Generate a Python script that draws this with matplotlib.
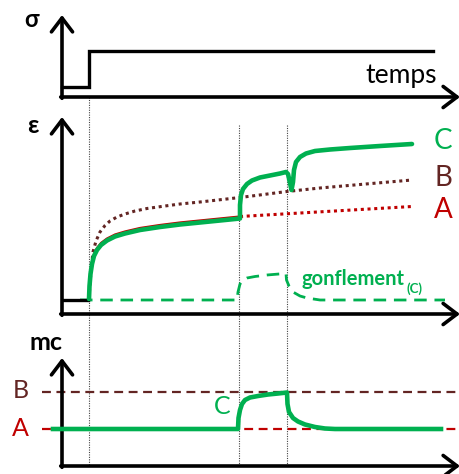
import matplotlib.pyplot as plt

plt.rcParams['font.family'] = ['Lato', 'DejaVu Sans']

# Couleurs
VERT = '#00B050'
ROUGE = '#C00000'
BRUN = '#632523'

# Panneau sigma : chargement en echelon
sigma_x = [62, 89, 89, 433]
sigma_y = [87, 87, 51, 51]

# Panneau epsilon : courbe A (trait plein puis pointille)
A_x = [89, 89.5, 90.5, 92, 94, 97, 101, 107, 115, 125, 140, 160, 180, 200, 220, 240]
A_y = [299, 285, 272, 262, 254, 248, 243, 238.5, 234.5, 231.5, 228, 225, 222.5, 220.5, 218.5, 216.5]
A_suite_x = [240, 412]
A_suite_y = [216.5, 206.5]

# courbe B (pointille)
B_x = [89, 90, 91.5, 93, 96, 100, 105, 110, 117, 125, 135, 147, 165, 180, 200, 240, 287, 320, 360, 412]
B_y = [299, 283, 266, 252, 241, 232, 225.5, 221, 217, 214, 211, 208.5, 206, 204, 202, 197.5, 191.5, 188, 184.5, 180]

# courbe C (trait epais)
C_x = [89, 89.5, 90.5, 92, 94, 97, 101, 107, 115, 125, 140, 160, 180, 200, 220, 240,
       240, 241, 243, 247, 252, 260, 270, 280, 286,
       288, 290, 291.5, 293, 294, 296, 300, 306, 315, 330, 350, 380, 412]
C_y = [299, 286, 274, 264, 256, 250, 245, 240.5, 236.5, 233.5, 230, 227, 224.5, 222.5, 220.5, 218.5,
       205, 195, 189, 184, 180.5, 177.5, 175.5, 173.5, 172,
       174, 183, 190, 182, 170, 162, 157, 153.5, 151, 149.5, 148, 146, 144]

# gonflement (C) en tirets
gonf_x = [80, 237, 238, 240, 243, 247, 255, 267, 285, 286, 286.5, 289, 293, 300, 307, 320, 445]
gonf_y = [300, 300, 292, 284, 280, 278, 276.5, 275, 273.5, 273.5, 280, 286, 292, 296, 298, 300, 300]

# Panneau mc
mcA = 429
mcB = 392
mc_x = [53, 238, 238.5, 240, 242, 245, 250, 258, 268, 278, 287,
        287.5, 289, 293, 298, 305, 315, 325, 335, 441]
mc_y = [429, 429, 418, 410, 404, 400, 397.5, 396, 394.5, 393.5, 392.5,
        404, 412, 418, 421.5, 424.5, 427, 428.5, 429, 429]

# Instants reperes (lignes verticales pointillees)
t_reperes = [89, 239, 287]

fig = plt.figure(figsize=(4.6, 4.74), dpi=100)
ax = fig.add_axes([0, 0, 1, 1])
ax.set_xlim(0, 460)
ax.set_ylim(474, 0)
ax.axis('off')

# lignes verticales pointillees
ax.plot([t_reperes[0]] * 2, [97, 466], color='#444444', lw=0.8, ls=(0, (1, 1.2)), zorder=1)
for t in t_reperes[1:]:
    ax.plot([t, t], [125, 466], color='#444444', lw=0.8, ls=(0, (1, 1.2)), zorder=1)

# axes avec fleches
fleche = dict(arrowstyle='->,head_length=0.5,head_width=0.38', lw=2.6, color='black',
              mutation_scale=20, shrinkA=0, shrinkB=0)
for (y_haut, y_bas) in [(15, 97), (117, 314), (358, 466)]:
    ax.annotate('', xy=(62, y_haut), xytext=(62, y_bas + 1.3), arrowprops=fleche)
    ax.annotate('', xy=(460, y_bas), xytext=(60.7, y_bas), arrowprops=fleche)

# panneau sigma
ax.plot(sigma_x, sigma_y, color='black', lw=2.4, solid_joinstyle='miter', zorder=3)
ax.text(32, 19, 'σ', fontsize=17, fontweight='bold', ha='center', va='center')
ax.text(437, 75, 'temps', fontsize=19, ha='right', va='center')

# panneau epsilon
ax.plot([63, 88], [300, 300], color='black', lw=2.4, zorder=3)
ax.plot(gonf_x, gonf_y, color=VERT, lw=2, ls=(0, (4.5, 2.8)), zorder=2)
ax.plot(A_x, A_y, color=ROUGE, lw=1.6, zorder=3)
ax.plot(A_suite_x, A_suite_y, color=ROUGE, lw=2.2, ls=(0, (1, 1.2)), zorder=3)
ax.plot(B_x, B_y, color=BRUN, lw=2.2, ls=(0, (1, 1.2)), zorder=3)
ax.plot(C_x, C_y, color=VERT, lw=3.3, solid_capstyle='round', solid_joinstyle='round', zorder=4)
ax.text(33, 125, 'ε', fontsize=18, fontweight='bold', ha='center', va='center')
ax.text(443, 141, 'C', fontsize=20, color=VERT, ha='center', va='center')
ax.text(443, 178, 'B', fontsize=20, color=BRUN, ha='center', va='center')
ax.text(443, 210, 'A', fontsize=20, color=ROUGE, ha='center', va='center')
gonf = ax.text(302, 285, 'gonflement', fontsize=14.5, fontweight='bold', color=VERT,
               ha='left', va='baseline')
ax.annotate('(C)', xy=(1, 0), xycoords=gonf, xytext=(1, -3), textcoords='offset points',
            fontsize=9.5, fontweight='bold', color=VERT, ha='left', va='baseline')

# panneau mc
ax.plot([42, 460], [mcB, mcB], color=BRUN, lw=1.6, ls=(0, (4, 2.5)), zorder=2)
ax.plot([42, 460], [mcA, mcA], color=ROUGE, lw=1.6, ls=(0, (4, 2.5)), zorder=2)
ax.plot(mc_x, mc_y, color=VERT, lw=3.3, solid_joinstyle='round', zorder=4)
ax.text(46, 343, 'mc', fontsize=18, fontweight='bold', ha='center', va='center')
ax.text(21, 391, 'B', fontsize=18, color=BRUN, ha='center', va='center')
ax.text(20, 428, 'A', fontsize=18, color=ROUGE, ha='center', va='center')
ax.text(222, 407, 'C', fontsize=18, color=VERT, ha='center', va='center')

fig.savefig('out.png', dpi=100, facecolor='white')
plt.close(fig)
